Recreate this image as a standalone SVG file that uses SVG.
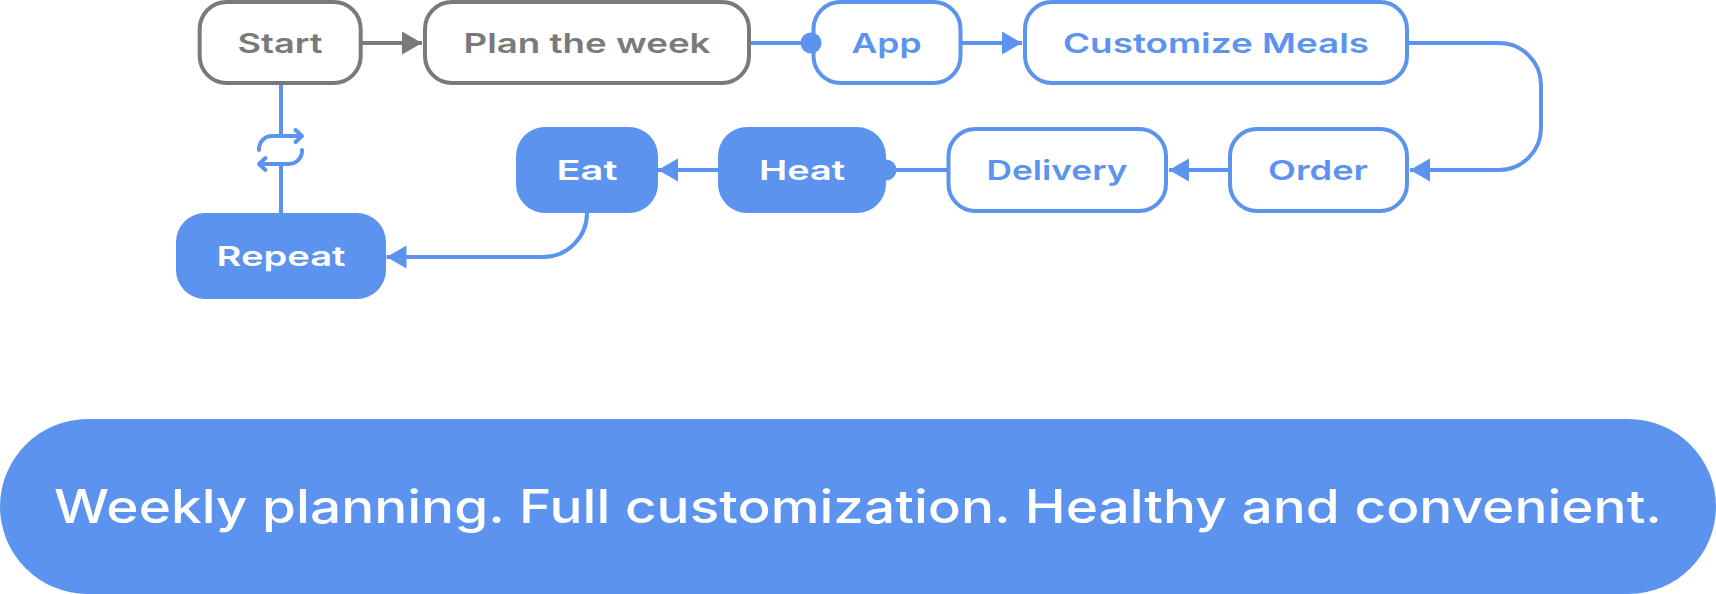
<svg xmlns="http://www.w3.org/2000/svg" width="1716" height="594" viewBox="0 0 1716 594">
<defs>
<marker id="ab" markerUnits="userSpaceOnUse" markerWidth="20" markerHeight="24" refX="20" refY="11.500" orient="auto"><path d="M0 0L20 11.500L0 23Z" fill="#5b93ee"/></marker>
<marker id="ag" markerUnits="userSpaceOnUse" markerWidth="20" markerHeight="24" refX="20" refY="11.500" orient="auto"><path d="M0 0L20 11.500L0 23Z" fill="#7a7a7a"/></marker>
</defs>
<style>
.n{stroke-width:4;fill:#fff}
.b{stroke:#5b93ee}.g{stroke:#7a7a7a}
.f{fill:#5b93ee;stroke:none}
text{font-family:"Inter","Liberation Sans",sans-serif;font-weight:600;font-size:27.500px;text-anchor:middle}
.tb{fill:#5b93ee}.tg{fill:#7a7a7a}.tw{fill:#fff}
.c{fill:none;stroke:#5b93ee;stroke-width:4}
</style>
<rect width="1716" height="594" fill="#fff"/>
<g id="start"><rect class="n g" x="199.700" y="2" width="161" height="81" rx="27"/><text class="tg" x="280" y="53" textLength="85" lengthAdjust="spacingAndGlyphs">Start</text></g>
<g id="plan"><rect class="n g" x="425" y="2" width="324" height="81" rx="27"/><text class="tg" x="587" y="53" textLength="247" lengthAdjust="spacingAndGlyphs">Plan the week</text></g>
<g id="app"><rect class="n b" x="813.500" y="2" width="147" height="81" rx="27"/><text class="tb" x="886.500" y="53" textLength="70" lengthAdjust="spacingAndGlyphs">App</text></g>
<g id="customize"><rect class="n b" x="1025" y="2" width="382" height="81" rx="27"/><text class="tb" x="1216" y="53" textLength="306" lengthAdjust="spacingAndGlyphs">Customize Meals</text></g>
<g id="order"><rect class="n b" x="1230" y="129" width="177" height="82" rx="27"/><text class="tb" x="1318" y="180" textLength="100" lengthAdjust="spacingAndGlyphs">Order</text></g>
<g id="delivery"><rect class="n b" x="948.500" y="129" width="217.500" height="82" rx="27"/><text class="tb" x="1057" y="180" textLength="141" lengthAdjust="spacingAndGlyphs">Delivery</text></g>
<g id="heat"><rect class="f" x="718" y="127" width="168" height="86" rx="29"/><text class="tw" x="802" y="180" textLength="86" lengthAdjust="spacingAndGlyphs">Heat</text></g>
<g id="eat"><rect class="f" x="516" y="127" width="142" height="86" rx="29"/><text class="tw" x="587" y="180" textLength="61" lengthAdjust="spacingAndGlyphs">Eat</text></g>
<g id="repeat"><rect class="f" x="176" y="213" width="210" height="86" rx="29"/><text class="tw" x="281" y="266" textLength="129" lengthAdjust="spacingAndGlyphs">Repeat</text></g>
<g id="tagline"><rect class="f" x="0" y="419" width="1716" height="175" rx="87.500"/><text class="tw" x="858" y="523" style="font-size:46px;font-weight:500" textLength="1608" lengthAdjust="spacingAndGlyphs">Weekly planning. Full customization. Healthy and convenient.</text></g>
<g id="connectors">
<path class="c" style="stroke:#7a7a7a" d="M362 43H422" marker-end="url(#ag)"/>
<path class="c" d="M751 43H811"/>
<circle class="f" cx="811" cy="43" r="10.500"/>
<path class="c" d="M962 43H1022" marker-end="url(#ab)"/>
<path class="c" d="M1409 43H1499A42 42 0 0 1 1541 85V128A42 42 0 0 1 1499 170H1410" marker-end="url(#ab)"/>
<path class="c" d="M1228 170H1169" marker-end="url(#ab)"/>
<path class="c" d="M947 170H886"/>
<circle class="f" cx="886" cy="170" r="10.500"/>
<path class="c" d="M718 170H658" marker-end="url(#ab)"/>
<path class="c" d="M587 213A44 44 0 0 1 543 257H386.500" marker-end="url(#ab)"/>
<path class="c" d="M281 85V135M281 164V213"/>
<g id="repeat-icon" fill="none" stroke="#5b93ee" stroke-width="4" stroke-linecap="round" stroke-linejoin="round">
<path d="M259 150V149A13 13 0 0 1 272 136H302M295.500 130L302 136L295.500 142"/>
<path d="M302 150V151A13 13 0 0 1 289 164H259M265.500 158L259 164L265.500 170"/>
</g>
</g>
</svg>
